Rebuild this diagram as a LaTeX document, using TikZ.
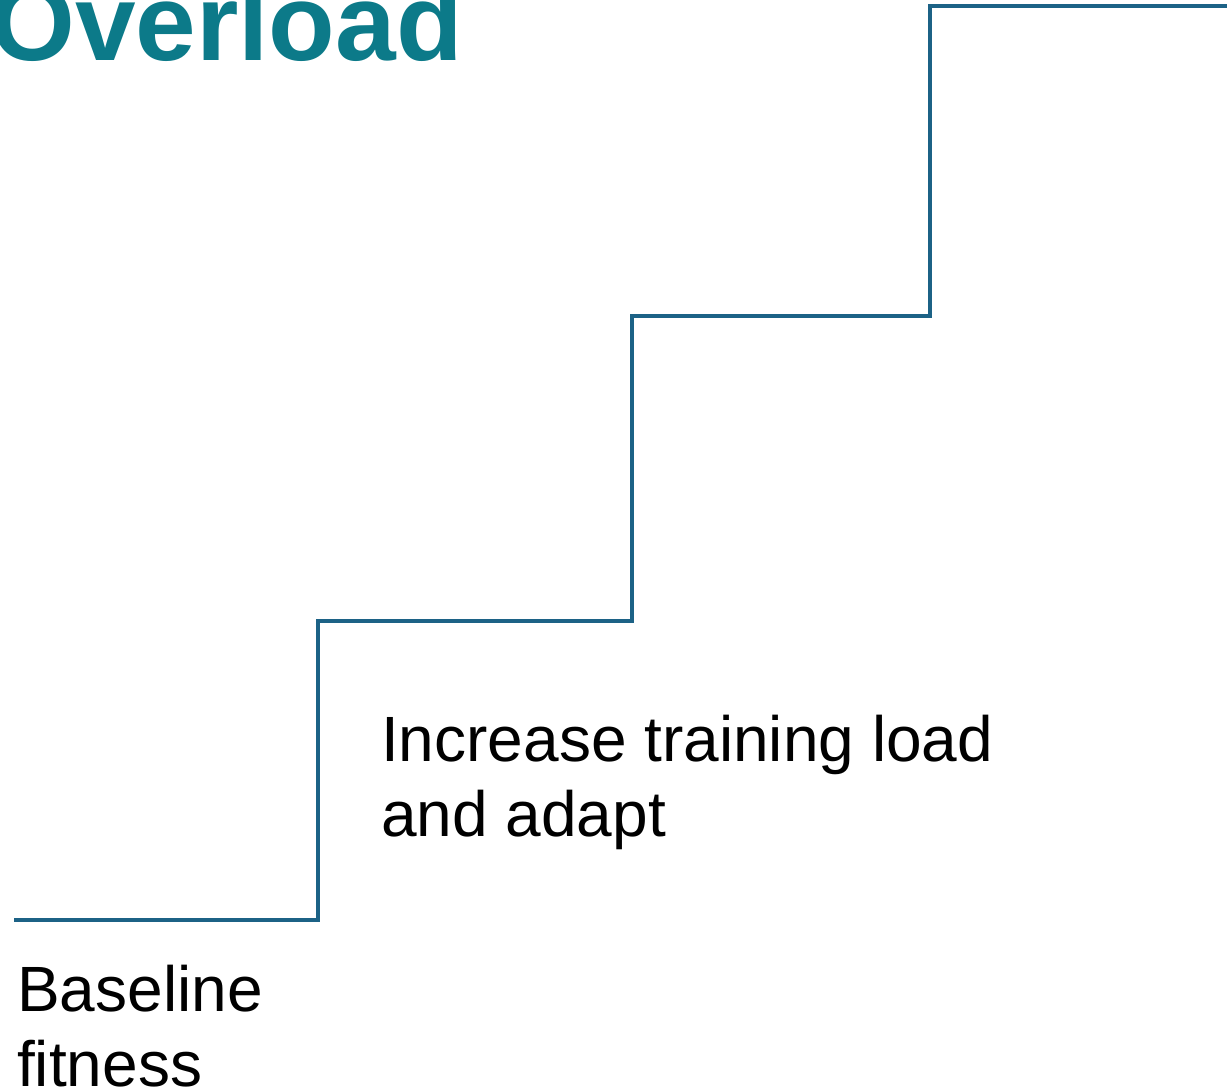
\documentclass[tikz,border=0pt]{standalone}
\usepackage{fontspec}
\setmainfont{Liberation Sans}
\definecolor{stepline}{HTML}{1C6286}
\definecolor{titleteal}{HTML}{0C7A89}
\begin{document}
\begin{tikzpicture}[x=1pt,y=-1pt,
  stairline/.style={draw=stepline,line width=3.2pt},
  bodytext/.style={inner sep=0pt,anchor=base west,font=\fontsize{64}{75}\selectfont},
  titletext/.style={inner sep=0pt,anchor=base west,text=titleteal,font=\fontsize{109}{112}\selectfont\bfseries}]
\useasboundingbox (0,0) rectangle (1227,1091);

% title, partly cropped at the top and left
\node[titletext] (title) at (-10,61) {Overload};

% corner points of the stair
\coordinate (s0) at (14,920);
\coordinate (s1) at (318,920);
\coordinate (s2) at (318,621);
\coordinate (s3) at (632,621);
\coordinate (s4) at (632,316);
\coordinate (s5) at (930,316);
\coordinate (s6) at (930,6);
\coordinate (s7) at (1227,6);

\draw[stairline] (s0) -- (s1) -- (s2) -- (s3) -- (s4) -- (s5) -- (s6) -- (s7);

% labels
\node[bodytext] (base1) at (17,1011) {Baseline};
\node[bodytext] (base2) at (17,1086) {fitness};
\node[bodytext] (inc1) at (381,761) {Increase training load};
\node[bodytext] (inc2) at (381,836) {and adapt};
\end{tikzpicture}
\end{document}
